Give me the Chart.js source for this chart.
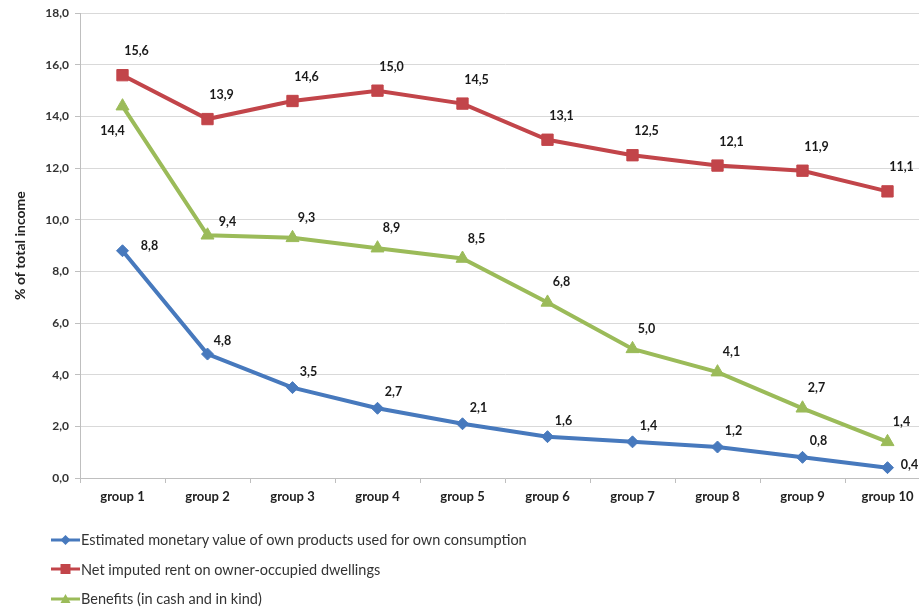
<!DOCTYPE html>
<html>
<head>
<meta charset="utf-8">
<script src="https://cdn.jsdelivr.net/npm/chart.js@4.4.1/dist/chart.umd.min.js"></script>
<style>
    html, body { margin: 0; padding: 0; background: #ffffff; overflow: hidden; }
    #wrap { position: relative; width: 939px; height: 609px; }
    #chart { display: block; }
    #legend { position: absolute; left: 51px; top: 525px; font-family: Lato, 'Open Sans', sans-serif; font-size: 14.5px; color: #333; }
    .item { display: flex; align-items: center; height: 29.5px; }
    .item canvas { margin-right: 1px; }
</style>
</head>
<body>
<div id="wrap">
    <canvas id="chart" width="939" height="609"></canvas>
    <div id="legend"></div>
</div>
<script>
// ---- data ----
const groups = ['group 1', 'group 2', 'group 3', 'group 4', 'group 5', 'group 6', 'group 7', 'group 8', 'group 9', 'group 10'];
const ownProducts = [8.8, 4.8, 3.5, 2.7, 2.1, 1.6, 1.4, 1.2, 0.8, 0.4];
const imputedRent = [15.6, 13.9, 14.6, 15.0, 14.5, 13.1, 12.5, 12.1, 11.9, 11.1];
const benefits = [14.4, 9.4, 9.3, 8.9, 8.5, 6.8, 5.0, 4.1, 2.7, 1.4];

const seriesNames = [
    'Estimated monetary value of own products used for own consumption',
    'Net imputed rent on owner-occupied dwellings',
    'Benefits (in cash and in kind)'
];
const yTicks = [0, 2, 4, 6, 8, 10, 12, 14, 16, 18];

const FONT = 'Lato, "Open Sans", sans-serif';

function fmt(v) {
    return v.toFixed(1).replace('.', ',');
}

function makeDataset(label, data, color, pointStyle, radius) {
    return {
        label,
        data,
        borderColor: color,
        backgroundColor: color,
        borderWidth: 4,
        pointStyle,
        pointRadius: radius,
        pointBackgroundColor: color,
        pointBorderColor: color,
        pointBorderWidth: 1,
        tension: 0
    };
}

// label offsets per series (dx, dy from point)
const labelOffsets = [
    { dx: 16, dy: -16 },
    { dx: 14, dy: -24 },
    { dx: 14, dy: -20 }
];

const dataLabels = {
    id: 'dataLabels',
    afterDatasetsDraw(chart) {
        const ctx = chart.ctx;
        ctx.save();
        ctx.font = 'bold 12.5px ' + FONT;
        ctx.fillStyle = '#1a1a1a';
        ctx.textAlign = 'center';
        ctx.textBaseline = 'middle';
        chart.data.datasets.forEach((ds, i) => {
            const meta = chart.getDatasetMeta(i);
            meta.data.forEach((pt, j) => {
                let { dx, dy } = labelOffsets[i];
                if (i === 2 && j === 0) { dx = -10; dy = 25; }
                if (i === 2 && j === 1) { dx = 20; dy = -13; }
                if (i === 0 && j === 0) { dx = 27; dy = -5; }
                if (i === 0 && j === 1) { dx = 15; dy = -13; }
                if (i === 0 && j === 9) { dx = 22; dy = -3; }
                ctx.fillText(fmt(ds.data[j]), pt.x + dx, pt.y + dy);
            });
        });
        ctx.restore();
    }
};

const chart = new Chart(document.getElementById('chart'), {
    type: 'line',
    data: {
        labels: groups,
        datasets: [
            makeDataset(seriesNames[0], ownProducts, '#4779BD', 'rectRot', 6),
            makeDataset(seriesNames[1], imputedRent, '#C2454A', 'rect', 8),
            makeDataset(seriesNames[2], benefits, '#9BBB59', 'triangle', 7.5)
        ]
    },
    options: {
        responsive: false,
        animation: false,
        layout: { padding: { top: 12, right: 0, bottom: 91, left: 0 } },
        plugins: {
            legend: { display: false },
            tooltip: { enabled: false }
        },
        scales: {
            x: {
                offset: true,
                grid: {
                    offset: true,
                    drawOnChartArea: false,
                    tickLength: 5,
                    color: '#bfbfbf'
                },
                border: { color: '#bfbfbf' },
                ticks: {
                    color: '#222',
                    padding: 6,
                    maxRotation: 0,
                    font: { family: FONT, size: 13, weight: 'bold' }
                },
                afterFit(scale) { scale.height = 40; }
            },
            y: {
                min: 0,
                max: 18,
                afterBuildTicks(scale) {
                    scale.ticks = yTicks.map(v => ({ value: v }));
                },
                grid: {
                    color: '#d9d9d9',
                    tickLength: 5,
                    tickColor: '#bfbfbf'
                },
                border: { color: '#bfbfbf' },
                ticks: {
                    color: '#333',
                    padding: 6,
                    font: { family: FONT, size: 12, weight: 'bold' },
                    callback: v => fmt(v)
                },
                title: {
                    display: true,
                    text: '% of total income',
                    color: '#222',
                    padding: { top: 12, bottom: 0 },
                    font: { family: FONT, size: 14, weight: 'bold' }
                },
                afterFit(scale) { scale.width = 80; }
            }
        }
    },
    plugins: [dataLabels]
});

// legend built from the chart datasets
const legend = document.getElementById('legend');
chart.data.datasets.forEach(ds => {
    const row = document.createElement('div');
    row.className = 'item';
    const sw = document.createElement('canvas');
    sw.width = 29; sw.height = 14;
    const c = sw.getContext('2d');
    c.strokeStyle = ds.borderColor;
    c.fillStyle = ds.borderColor;
    c.lineWidth = 3;
    c.beginPath(); c.moveTo(0, 7); c.lineTo(29, 7); c.stroke();
    c.beginPath();
    if (ds.pointStyle === 'rect') {
        c.rect(9.5, 2, 10, 10);
    } else if (ds.pointStyle === 'rectRot') {
        c.moveTo(14.5, 2); c.lineTo(19.5, 7); c.lineTo(14.5, 12); c.lineTo(9.5, 7);
    } else {
        c.moveTo(14.5, 2); c.lineTo(19.5, 11); c.lineTo(9.5, 11);
    }
    c.closePath(); c.fill();
    row.appendChild(sw);
    const t = document.createElement('span');
    t.textContent = ds.label;
    row.appendChild(t);
    legend.appendChild(row);
});
</script>
</body>
</html>
